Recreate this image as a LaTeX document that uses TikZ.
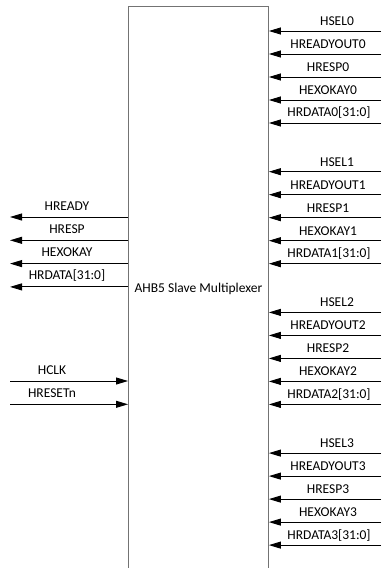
\documentclass[tikz,border=0pt]{standalone}
\usepackage{fontspec}
\setmainfont{Carlito}
\usetikzlibrary{arrows.meta}

\begin{document}
\begin{tikzpicture}[x=1pt,y=-1pt,>={Triangle[length=12pt,width=7pt]},
    font=\fontsize{13.5}{16}\selectfont,
    sig/.style={->,black,line width=0.9pt},
    lbl/.style={inner sep=0pt}]
  \useasboundingbox (0,0) rectangle (381,568);
  % Box runs past the lower edge of the page.
  \node[draw=black!55,line width=0.9pt,minimum width=140pt,minimum height=564pt,
    anchor=north west,inner sep=0pt] (mux) at (128,6) {};
  \node[lbl] (title) at (mux.center) {AHB5 Slave Multiplexer};

  % slave side: four ports of five signals
  \foreach \g in {0,...,3} {
    \foreach \s/\lx [count=\i from 0] in {HSEL\g/337,HREADYOUT\g/328,HRESP\g/328,
        HEXOKAY\g/328,{HRDATA\g[31:0]}/329} {
      \coordinate (r\g\i) at (381,{31+140.7*\g+23*\i});
      \draw[sig] (r\g\i) -- (r\g\i -| mux.east);
      \node[lbl] (l\g\i) at ([yshift=10pt]r\g\i -| \lx,0) {\s};
    }
  }

  % master side outputs
  \foreach \s [count=\i from 0] in {HREADY,HRESP,HEXOKAY,{HRDATA[31:0]}} {
    \coordinate (o\i) at (10,{217+23.3*\i});
    \draw[sig] (o\i -| mux.west) -- (o\i);
    \node[lbl] (ol\i) at ([yshift=11pt]o\i -| 67,0) {\s};
  }

  % inputs
  \foreach \s [count=\i from 0] in {HCLK,HRESETn} {
    \coordinate (n\i) at (10,{381+23.3*\i});
    \draw[sig] (n\i) -- (n\i -| mux.west);
    \node[lbl] (nl\i) at ([yshift=11pt]n\i -| 52,0) {\s};
  }
\end{tikzpicture}
\end{document}
